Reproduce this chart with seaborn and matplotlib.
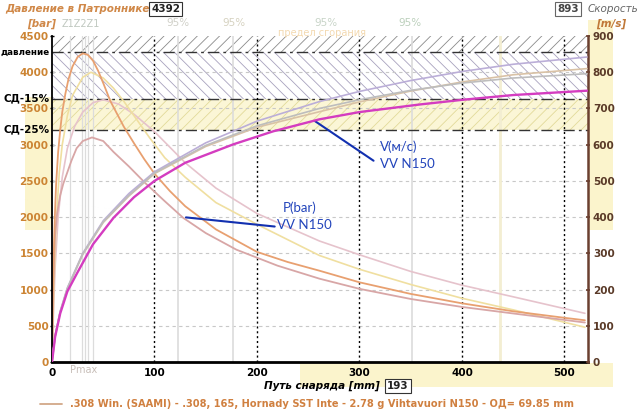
import numpy as np
import pandas as pd
import matplotlib
matplotlib.use("Agg")
import matplotlib.pyplot as plt
import seaborn as sns

# ---------------- data ----------------
# pressure curves, bar  (x = projectile travel, mm)
p_orange_x = [0, 0.5, 1, 2, 3, 4, 6, 8, 10, 13, 16, 20, 25, 30, 35, 40, 45, 50, 57, 70, 80, 90, 100, 115, 130, 160, 200, 230, 261, 300, 350, 400, 450, 500, 520]
p_orange_y = [0, 500, 1000, 1650, 2100, 2450, 2900, 3200, 3450, 3700, 3900, 4080, 4210, 4260, 4240, 4160, 4020, 3850, 3600, 3250, 3020, 2800, 2600, 2360, 2150, 1830, 1520, 1380, 1260, 1100, 940, 810, 700, 610, 576]

p_yellow_x = [0, 1, 2, 4, 7, 10, 15, 20, 30, 38, 50, 60, 70, 80, 95, 110, 130, 160, 200, 261, 300, 350, 400, 450, 520]
p_yellow_y = [0, 600, 1100, 1900, 2600, 3000, 3400, 3680, 3930, 4000, 3920, 3780, 3600, 3400, 3100, 2820, 2550, 2200, 1900, 1470, 1280, 1070, 880, 720, 480]

p_pink_x = [0, 1, 3, 6, 10, 15, 22, 30, 40, 50, 65, 80, 100, 130, 160, 200, 261, 300, 350, 400, 450, 520]
p_pink_y = [0, 500, 1300, 2000, 2550, 2950, 3250, 3450, 3580, 3620, 3560, 3420, 3180, 2750, 2400, 2050, 1670, 1480, 1250, 1060, 900, 672]

p_mauve_x = [0, 0.5, 1, 2, 3, 5, 8, 11, 14.5, 19, 24, 30, 39, 50, 60, 75, 91, 110, 128, 150, 180, 220, 261, 300, 350, 400, 450, 520]
p_mauve_y = [0, 400, 800, 1350, 1750, 2050, 2300, 2460, 2600, 2780, 2950, 3050, 3100, 3050, 2900, 2700, 2470, 2220, 1990, 1780, 1550, 1330, 1150, 1010, 870, 760, 670, 545]

# velocity curves, m/s
v_main_x = [0, 3, 8, 15, 25, 40, 60, 80, 100, 130, 177, 216, 261, 300, 359, 401, 450, 522]
v_main_y = [0, 69, 134, 195, 248, 325, 398, 455, 500, 550, 601, 637, 670, 690, 711, 724, 737, 749]

v_purple_x = [0, 3, 8, 15, 30, 50, 75, 100, 150, 200, 261, 300, 350, 400, 450, 522]
v_purple_y = [0, 72, 140, 205, 300, 390, 465, 525, 605, 665, 719, 747, 777, 802, 822, 842]

v_tan_x = [0, 3, 8, 15, 30, 50, 75, 100, 150, 200, 261, 300, 350, 400, 450, 522]
v_tan_y = [0, 71, 138, 202, 297, 385, 458, 520, 595, 648, 691, 718, 748, 773, 793, 810]

v_gray_x = [0, 3, 8, 15, 30, 50, 75, 100, 150, 200, 261, 300, 350, 400, 450, 522]
v_gray_y = [0, 71, 139, 203, 298, 387, 460, 522, 598, 652, 700, 724, 750, 770, 784, 796]

# reference pressure levels, bar
p_max = 4275
p_sd15 = 3634
p_sd25 = 3206
level_labels = ["давление", "СД-15%", "СД-25%"]

x_ticks = [0, 100, 200, 300, 400, 500]
p_ticks = [0, 500, 1000, 1500, 2000, 2500, 3000, 3500, 4000, 4500]
v_ticks = [0, 100, 200, 300, 400, 500, 600, 700, 800, 900]
thin_lines_x = [17.6, 29, 32, 35, 40, 123, 177, 351]
legend_text = ".308 Win. (SAAMI) - .308, 165, Hornady SST Inte - 2.78 g Vihtavuori N150 - ОД= 69.85 mm"

# ---------------- figure ----------------
sns.set_style("white")
plt.rcParams["font.family"] = ["DejaVu Sans"]
plt.rcParams["hatch.linewidth"] = 0.6

W, H = 640, 415
fig = plt.figure(figsize=(6.4, 4.15), dpi=100)
L, R, T, B = 52, 588, 36, 362


def fx(px):
    return px / W


def fy(py):
    return 1 - py / H


# decorative yellow panels in the margins
for (x0, y0, x1, y1) in [(25, 97, 52, 230), (588, 20, 613, 230), (300, 363, 613, 387)]:
    fig.patches.append(plt.Rectangle((fx(x0), fy(y1)), fx(x1) - fx(x0), fy(y0) - fy(y1),
                                     transform=fig.transFigure, fc="#FBF4CC", ec="none", zorder=-10))

ax = fig.add_axes([fx(L), fy(B), fx(R) - fx(L), fy(T) - fy(B)])
ax.set_zorder(1)
ax.set_facecolor("none")
ax.set_xlim(0, 523)
ax.set_ylim(0, 4500)

# bands
ax.axhspan(p_max, 4500, fc="none", ec="#8A8A8A", hatch="///", lw=0, zorder=0.5)
ax.axhspan(p_sd15, p_max, fc="none", ec="#A8A2BE", hatch="\\\\\\", lw=0, zorder=0.5)
ax.axhspan(p_sd25, p_sd15, fc="#FBF6D6", ec="#E2DA9A", hatch="///", lw=0, zorder=0.4)
for lv in [p_max, p_sd15, p_sd25]:
    ax.axhline(lv, color="#333333", lw=1.0, ls=(0, (8, 3, 2, 3)), zorder=1)

# grid
for t in p_ticks[1:-1]:
    ax.axhline(t, color="#C8C8C8", lw=0.8, ls=(0, (3, 3)), zorder=0.6)
for xv in thin_lines_x:
    ax.axvline(xv, color="#DCDCDC", lw=1.2 if xv > 100 else 0.9, zorder=0.6)
ax.axvline(437, color="#F3EED2", lw=2, zorder=0.6)
for t in x_ticks[1:]:
    ax.axvline(t, color="black", lw=1.0, ls=(0, (1.5, 2)), zorder=1)

# pressure curves
pcurves = [
    (p_pink_x, p_pink_y, "#E6C3CC", 1.2),
    (p_yellow_x, p_yellow_y, "#F0DFA0", 1.2),
    (p_mauve_x, p_mauve_y, "#D8A6A6", 1.3),
    (p_orange_x, p_orange_y, "#E8A070", 1.3),
]
for xs, ys, c, lw in pcurves:
    df = pd.DataFrame({"x": xs, "y": ys})
    sns.lineplot(data=df, x="x", y="y", ax=ax, color=c, lw=lw, zorder=2)

ax.set_xlabel("")
ax.set_ylabel("")

# velocity axis
ax2 = ax.twinx()
ax2.set_zorder(2)
ax2.set_facecolor("none")
ax2.set_ylim(0, 900)
vcurves = [
    (v_purple_x, v_purple_y, "#BBAED8", 1.2),
    (v_tan_x, v_tan_y, "#D9C2A6", 1.2),
    (v_gray_x, v_gray_y, "#BDBDBD", 1.2),
    (v_main_x, v_main_y, "#D43CC0", 1.7),
]
for xs, ys, c, lw in vcurves:
    df = pd.DataFrame({"x": xs, "y": ys})
    sns.lineplot(data=df, x="x", y="y", ax=ax2, color=c, lw=lw, zorder=3)
ax2.set_xlabel("")
ax2.set_ylabel("")
ax2.set_xlim(0, 523)

# spines and ticks
ax.spines["top"].set_visible(False)
ax2.spines["top"].set_visible(False)
ax.spines["left"].set_color("black")
ax.spines["left"].set_linewidth(1.3)
ax.spines["bottom"].set_color("black")
ax.spines["bottom"].set_linewidth(2.0)
ax.spines["right"].set_visible(False)
ax2.spines["left"].set_visible(False)
ax2.spines["bottom"].set_visible(False)
ax2.spines["right"].set_color("#6B4030")
ax2.spines["right"].set_linewidth(1.8)

ax.set_xticks(x_ticks)
ax.set_xticklabels([str(t) for t in x_ticks], fontsize=7.5, fontweight="bold")
ax.set_yticks(p_ticks)
ax.set_yticklabels([str(t) for t in p_ticks], fontsize=7.5, fontweight="bold", color="#CC8433")
ax.tick_params(axis="x", length=3, width=1.5, pad=3, colors="black", direction="inout")
ax.tick_params(axis="y", length=3, width=1, pad=1, colors="black", labelcolor="#CC8433", direction="inout")
ax2.set_yticks(v_ticks)
ax2.set_yticklabels([str(t) for t in v_ticks], fontsize=7.5, fontweight="bold", color="#5A3A28")
ax2.tick_params(axis="y", length=3, width=1.2, pad=2, colors="#6B4030", labelcolor="#5A3A28", direction="inout")

# level labels at the left
for lv, lab, fs in zip([p_max, p_sd15, p_sd25], level_labels, [6.3, 7.5, 7.5]):
    ax.text(-0.004, lv, lab, transform=ax.get_yaxis_transform(), ha="right", va="center",
            fontsize=fs, fontweight="bold", color="black", zorder=5, clip_on=False)

# annotations
ax.annotate("", xy=(128, 2000), xytext=(220, 1866),
            arrowprops=dict(arrowstyle="-", color="#1230B0", lw=1.5), zorder=6)
ax.text(225, 2126, "P(bar)", color="#2244BB", fontsize=9.5, family="Lato", va="center", ha="left", zorder=6)
ax.text(220, 1893, "VV N150", color="#2244BB", fontsize=9.5, family="Lato", va="center", ha="left", zorder=6)
ax.annotate("", xy=(254, 3350), xytext=(316, 2757),
            arrowprops=dict(arrowstyle="-", color="#1230B0", lw=1.5), zorder=6)
ax.text(320, 2977, "V(м/с)", color="#2244BB", fontsize=9.5, family="Lato", va="center", ha="left", zorder=6)
ax.text(320, 2730, "VV N150", color="#2244BB", fontsize=9.5, family="Lato", va="center", ha="left", zorder=6)

# header texts
fig.text(fx(5), fy(9), "Давление в Патроннике", fontsize=7.5, fontweight="bold", style="italic",
         color="#D08848", ha="left", va="center")
fig.text(fx(151), fy(9), "4392", fontsize=7.5, fontweight="bold", color="#222222", ha="left", va="center",
         bbox=dict(boxstyle="square,pad=0.2", fc="white", ec="#333333", lw=0.8))
fig.text(fx(27), fy(24), "[bar]", fontsize=7.5, fontweight="bold", style="italic", color="#D08848",
         ha="left", va="center")
fig.text(fx(62), fy(24), "Z1Z2Z1", fontsize=7, color="#C0C8C0", ha="left", va="center")
for px, c in [(166, "#D0D0C8"), (222, "#D6D2C0"), (314, "#C8D4C8"), (398, "#BCD0BC")]:
    fig.text(fx(px), fy(23), "95%", fontsize=7.5, color=c, ha="left", va="center")
fig.text(fx(278), fy(33), "предел сгорания", fontsize=7, color="#F3D9B0", ha="left", va="center")
fig.text(fx(557), fy(9), "893", fontsize=7.5, fontweight="bold", color="#444444", ha="left", va="center",
         bbox=dict(boxstyle="square,pad=0.2", fc="white", ec="#666666", lw=0.8))
fig.text(fx(588), fy(9), "Скорость", fontsize=7.5, style="italic", color="#666666", ha="left", va="center")
fig.text(fx(596), fy(24), "[m/s]", fontsize=7.5, fontweight="bold", style="italic", color="#C07838",
         ha="left", va="center")

# bottom texts
fig.text(fx(70), fy(370), "Pmax", fontsize=7, color="#C8BEB8", ha="left", va="center")
fig.text(fx(380), fy(386), "Путь снаряда [mm]", fontsize=7.5, fontweight="bold", style="italic",
         color="black", ha="right", va="center")
fig.text(fx(387), fy(386), "193", fontsize=7.5, fontweight="bold", color="#222222", ha="left", va="center",
         bbox=dict(boxstyle="square,pad=0.2", fc="white", ec="#333333", lw=0.8))
fig.lines.append(plt.Line2D([fx(40), fx(62)], [fy(404), fy(404)], transform=fig.transFigure,
                            color="#D2A888", lw=1.3))
fig.text(fx(70), fy(404), legend_text, fontsize=7.1, fontweight="bold", color="#D08040", ha="left", va="center")

fig.savefig("out.png", dpi=100)
